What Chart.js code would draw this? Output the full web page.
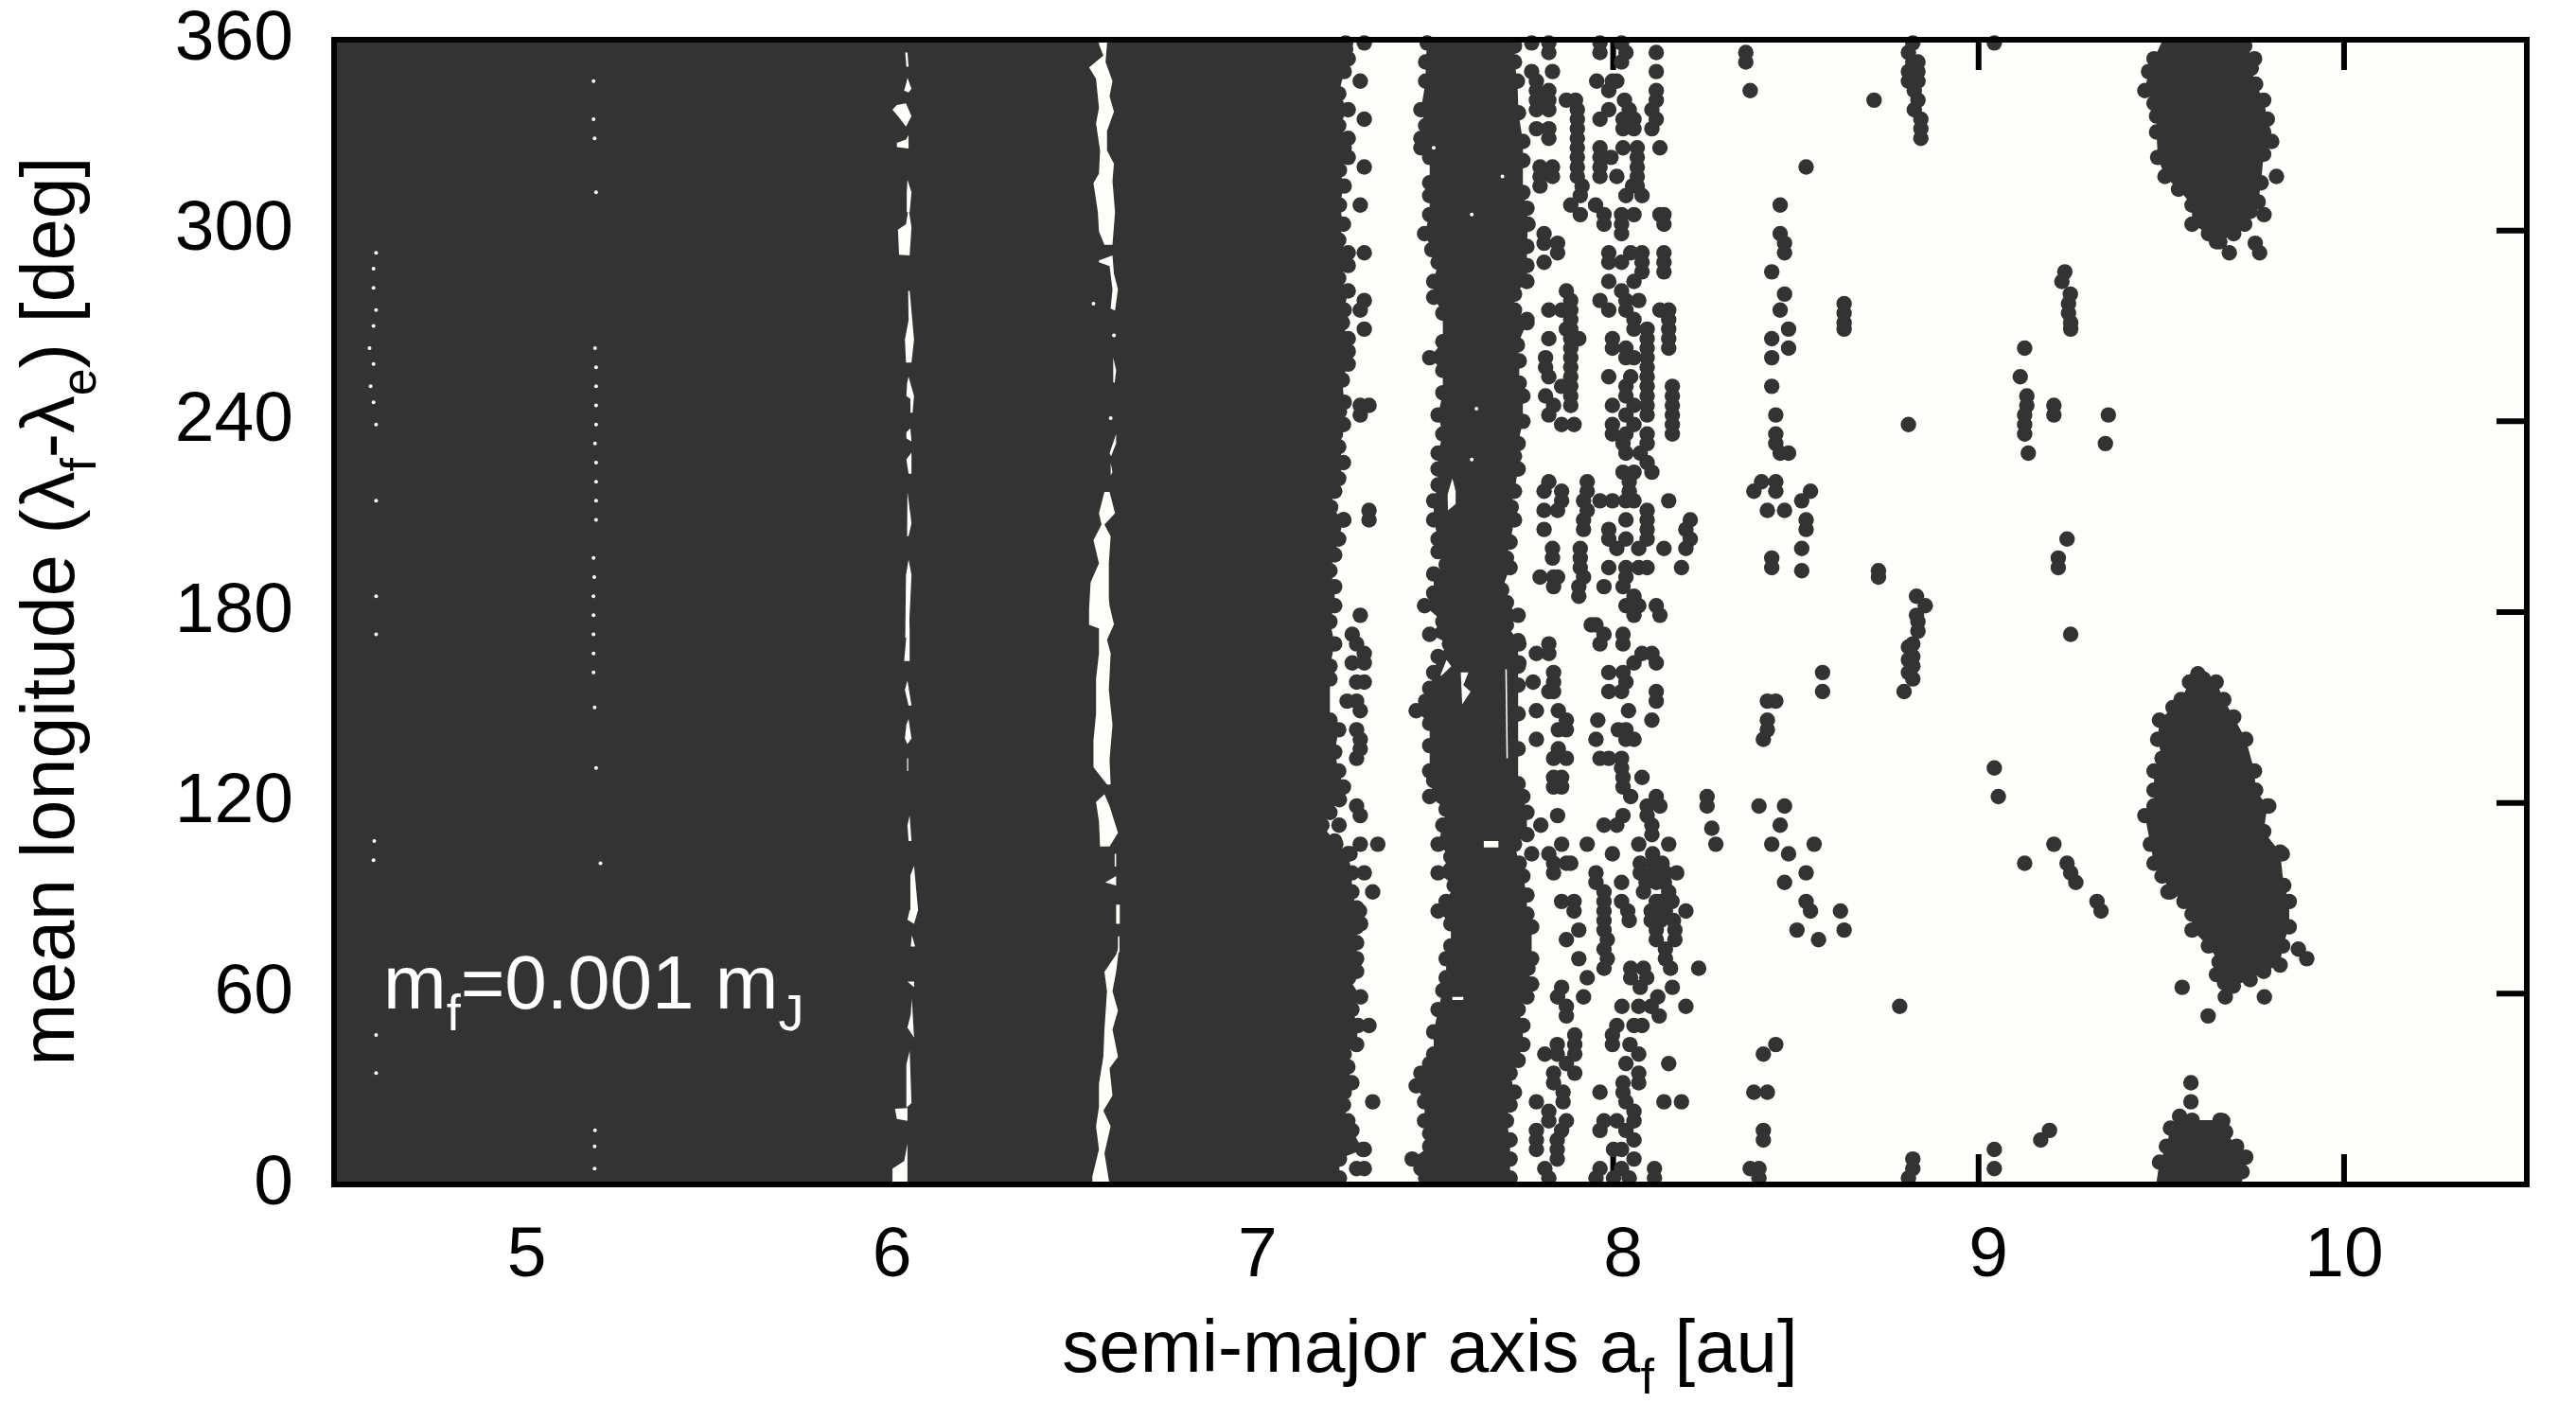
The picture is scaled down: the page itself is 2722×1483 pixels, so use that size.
<!DOCTYPE html>
<html>
<head>
<meta charset="utf-8">
<title>semi-major axis vs mean longitude</title>
<script src="https://cdn.jsdelivr.net/npm/chart.js@4/dist/chart.umd.js"></script>
<style>
  html, body { margin: 0; padding: 0; background: #ffffff; }
  canvas { display: block; }
</style>
</head>
<body>
<canvas id="myChart" width="2722" height="1483"></canvas>
<script>
var xTicks = [5, 6, 7, 8, 9, 10];
var yTicks = [0, 60, 120, 180, 240, 300, 360];

// solid part of the plot, too dense to tell single dots apart: [a, longitude]
// every vertex inside the frame is the centre of a dot on the rim
var denseMain = [[4.5,360],[6.66,360],[6.67,361.5],[7.25,361.5],[7.268,359],[7.268,357],[7.275,354],[7.264,350],[7.249,343],[7.275,338],[7.249,333],[7.275,329],[7.264,326],[7.275,323],[7.251,319],[7.264,314],[7.251,308],[7.262,302],[7.249,297],[7.275,293],[7.275,289],[7.249,285],[7.275,281],[7.264,275],[7.259,271],[7.275,266],[7.275,262],[7.275,258],[7.259,253],[7.264,246],[7.251,243],[7.262,239],[7.240,236],[7.249,232],[7.262,227],[7.249,222],[7.238,218],[7.227,213],[7.262,209],[7.249,203],[7.238,198],[7.225,193],[7.238,188],[7.238,182],[7.225,177],[7.238,170],[7.225,163],[7.225,159],[7.225,146],[7.249,143],[7.238,136],[7.249,130],[7.262,125],[7.251,121],[7.225,117],[7.203,113],[7.238,108],[7.274,104],[7.285,98],[7.285,92],[7.298,87],[7.309,82],[7.298,81],[7.298,76],[7.298,71],[7.298,67],[7.276,65],[7.309,59],[7.285,55],[7.302,50],[7.298,44],[7.264,41],[7.274,37],[7.285,32],[7.264,29],[7.262,25],[7.274,20],[7.285,17],[7.315,11],[7.251,8],[7.251,2],[7.272,0],[6.556,0],[6.556,-2.2],[5.447,-2.2],[5.44,0],[4.5,0]];
var denseBand = [[7.491,361.5],[7.491,359],[7.487,353],[7.487,347],[7.474,338],[7.487,333],[7.474,329],[7.474,326],[7.498,323],[7.498,315],[7.498,311],[7.498,305],[7.484,299],[7.504,294],[7.521,290],[7.509,284],[7.509,279],[7.534,274],[7.534,265],[7.498,260],[7.534,256],[7.534,249],[7.521,242],[7.534,236],[7.521,230],[7.521,225],[7.521,220],[7.509,215],[7.509,209],[7.521,203],[7.521,199],[7.543,195],[7.509,192],[7.509,186],[7.484,182],[7.534,177],[7.498,173],[7.552,170],[7.521,166],[7.509,161],[7.498,156],[7.487,152],[7.461,149],[7.498,145],[7.498,138],[7.498,130],[7.509,127],[7.498,122],[7.543,118],[7.534,113],[7.521,107],[7.556,103],[7.521,98],[7.565,94],[7.543,89],[7.521,86],[7.556,82],[7.556,75],[7.543,71],[7.543,65],[7.534,61],[7.521,55],[7.509,48],[7.509,41],[7.498,38],[7.474,35],[7.461,31],[7.484,26],[7.484,20],[7.498,16],[7.498,12],[7.450,8],[7.474,5],[7.487,2],[7.487,0],[7.718,0],[7.718,2],[7.718,8],[7.718,14],[7.708,20],[7.718,25],[7.730,29],[7.718,35],[7.740,39],[7.753,44],[7.753,50],[7.740,55],[7.764,59],[7.777,63],[7.767,68],[7.777,71],[7.777,81],[7.764,85],[7.764,91],[7.753,97],[7.743,101],[7.730,107],[7.764,110],[7.764,117],[7.753,122],[7.740,126],[7.740,137],[7.740,148],[7.740,157],[7.740,163],[7.740,171],[7.708,176],[7.740,179],[7.708,183],[7.695,187],[7.718,194],[7.708,197],[7.718,202],[7.730,209],[7.721,213],[7.730,218],[7.740,225],[7.730,229],[7.740,233],[7.753,240],[7.753,248],[7.743,252],[7.743,259],[7.738,264],[7.764,271],[7.764,272],[7.730,275],[7.730,280],[7.764,284],[7.764,289],[7.764,295],[7.767,302],[7.764,307],[7.753,312],[7.753,322],[7.753,328],[7.741,337],[7.738,347],[7.730,353],[7.730,358],[7.707,361.5]];
var blobUpper = [[9.510,361.5],[9.480,354],[9.465,350],[9.455,344],[9.480,340],[9.487,336],[9.487,331],[9.490,323],[9.510,317],[9.547,313],[9.584,308],[9.584,302],[9.629,299],[9.651,296.5],[9.660,296.5],[9.698,299],[9.728,302],[9.743,306],[9.765,309],[9.773,315],[9.780,324],[9.802,328],[9.780,331],[9.790,335],[9.780,341],[9.758,346],[9.746,351],[9.755,354],[9.728,358],[9.713,361.5]];
var blobMiddle = [[9.600,160.6],[9.577,158],[9.554,152.5],[9.532,150],[9.495,146],[9.490,140],[9.502,134],[9.480,130],[9.480,124],[9.480,119],[9.455,116],[9.470,107],[9.480,101],[9.502,97],[9.525,92],[9.562,89],[9.584,85],[9.584,80],[9.629,75],[9.658,70],[9.651,66],[9.673,63.4],[9.697,62.4],[9.743,64.4],[9.780,67],[9.825,69],[9.832,75],[9.850,81],[9.850,89],[9.835,94],[9.825,104.5],[9.780,111],[9.790,119],[9.758,124],[9.755,130],[9.731,140],[9.698,147],[9.671,152.5],[9.650,158],[9.615,159]];
var blobLower = [[9.487,0],[9.487,1],[9.495,7],[9.514,12],[9.525,17.7],[9.550,21.4],[9.584,20.2],[9.661,20.2],[9.668,20],[9.676,16.5],[9.706,12],[9.731,8.6],[9.721,4],[9.721,0]];

// empty slivers left inside the solid part
var gapsNearSix = [
  [[6.063,356],[6.069,356],[6.072,351.5],[6.066,351.5]],
  [[6.069,348],[6.080,344.6],[6.072,343.4],[6.060,344],[6.066,346.5]],
  [[6.065,340],[6.080,336],[6.065,332.7],[6.043,336],[6.028,338],[6.040,339.5]],
  [[6.072,330],[6.072,325.8],[6.040,326.2],[6.040,327.6],[6.065,328.6]],
  [[6.069,316],[6.080,312],[6.075,305.8],[6.067,305.8],[6.067,312]],
  [[6.072,307],[6.080,301],[6.075,292.2],[6.046,292.4],[6.043,300.3],[6.065,302]],
  [[6.075,281],[6.087,265.7],[6.080,258.5],[6.065,258.5],[6.062,265.7],[6.072,271.8],[6.071,281]],
  [[6.072,254],[6.087,248],[6.083,242.7],[6.077,242.7],[6.077,247],[6.066,248],[6.068,252]],
  [[6.077,237.8],[6.080,233.6],[6.066,234.7],[6.066,236.5]],
  [[6.080,230.2],[6.080,223.5],[6.072,223.5],[6.066,228]],
  [[6.069,217.8],[6.080,208],[6.072,203.9],[6.068,203.9]],
  [[6.072,196.5],[6.080,191.7],[6.072,172],[6.063,172],[6.065,191.7]],
  [[6.072,182],[6.075,175],[6.075,164.6],[6.060,164.6],[6.068,175]],
  [[6.069,158.5],[6.080,150.6],[6.072,150.6],[6.062,155.5]],
  [[6.072,146.4],[6.080,140.3],[6.069,138.5],[6.062,140.3],[6.066,144.6]],
  [[6.068,134],[6.071,134],[6.071,130],[6.068,130]],
  [[6.075,116],[6.080,108],[6.072,108],[6.069,113]],
  [[6.087,100.2],[6.098,86.3],[6.087,82],[6.069,83.2],[6.075,86.3],[6.077,97.2]],
  [[6.081,78.4],[6.090,74.8],[6.078,74.8]],
  [[6.069,63.8],[6.087,63.8],[6.087,62]],
  [[6.081,58.4],[6.087,46.2],[6.069,49.3],[6.078,53.5]],
  [[6.075,42],[6.080,25.6],[6.065,24],[6.066,37.7]],
  [[6.035,23.8],[6.069,24],[6.069,20],[6.040,20.6]],
  [[6.069,12.8],[6.069,0],[6.028,0],[6.028,5],[6.060,7.4]]
];
var gapsNearSixSix = [
  [[6.593,361],[6.593,358.6],[6.605,355],[6.566,351.3],[6.585,347.7],[6.593,338.6],[6.585,333.7],[6.596,325.2],[6.593,317.9],[6.578,314.9],[6.590,305.8],[6.593,299.7],[6.608,295.5],[6.630,295.5],[6.637,305.8],[6.630,315.5],[6.634,321],[6.615,325.2],[6.615,331.3],[6.634,337.4],[6.622,342.2],[6.630,347],[6.611,353],[6.615,358.6],[6.615,361]],
  [[6.593,290.6],[6.630,292.2],[6.634,286.4],[6.645,281.5],[6.637,274.8],[6.625,275.4],[6.630,281.5],[6.622,288.8],[6.593,290]],
  [[6.632,260],[6.640,256],[6.636,252],[6.632,252.5]],
  [[6.640,236],[6.622,230],[6.626,229],[6.640,233]],
  [[6.625,227],[6.630,224],[6.625,223]],
  [[6.608,217.8],[6.593,211.1],[6.600,207.5],[6.578,202.6],[6.593,195.3],[6.570,189.3],[6.566,180.8],[6.566,176],[6.593,174.9],[6.593,167],[6.585,159],[6.585,148],[6.578,139.7],[6.578,131.2],[6.615,125.8],[6.625,125.8],[6.622,133.6],[6.630,144.6],[6.620,155.5],[6.625,167],[6.615,171.3],[6.634,176.1],[6.622,182],[6.620,184.4],[6.620,195.3],[6.625,203.8],[6.608,207.5],[6.637,211.1],[6.622,217.8]],
  [[6.608,122.7],[6.622,119],[6.645,110.6],[6.622,106.3],[6.596,106.3],[6.593,114.2],[6.585,120.3]],
  [[6.636,104],[6.640,104],[6.640,100],[6.636,100]],
  [[6.640,97],[6.640,94],[6.610,95]],
  [[6.640,88],[6.650,88],[6.650,82],[6.640,82]],
  [[6.645,78],[6.649,78],[6.649,73],[6.645,73]],
  [[6.640,72.3],[6.608,66.9],[6.615,60.8],[6.608,48.7],[6.605,40.2],[6.593,31.7],[6.593,24.4],[6.585,18.3],[6.593,11],[6.575,2.5],[6.575,0],[6.622,0],[6.608,9.8],[6.625,18.3],[6.605,23.2],[6.630,28],[6.622,36.5],[6.645,40.2],[6.630,48.7],[6.645,54.7],[6.630,60.8],[6.640,66.9],[6.649,75.4]]
];
var gapsInBand = [
  [[7.583,161],[7.604,161],[7.590,157],[7.610,155],[7.587,151]],
  [[7.544,165],[7.557,163],[7.530,160],[7.527,160]],
  [[7.560,222],[7.569,218],[7.569,214],[7.548,212],[7.547,217]],
  [[7.705,162],[7.709,162],[7.712,134],[7.708,134]],
  [[7.646,108],[7.686,108],[7.686,106],[7.646,106]],
  [[7.560,59],[7.590,59],[7.590,58],[7.560,58]]
];

// single holes in the solid part
var specks = [[4.615,293],[4.608,288],[4.608,282],[4.615,275],[4.608,270],[4.597,263],[4.608,258],[4.600,251],[4.608,246],[4.615,239],[4.615,215],[4.615,185],[4.615,173],[4.610,108],[4.608,102],[4.615,47],[4.615,35],[5.210,347],[5.210,335],[5.213,329],[5.217,312],[5.214,263],[5.217,257],[5.217,251],[5.217,245],[5.217,239],[5.214,233],[5.217,227],[5.217,221],[5.217,215],[5.217,209],[5.210,197],[5.212,191],[5.210,185],[5.210,179],[5.210,173],[5.210,167],[5.210,161],[5.213,150],[5.217,131],[5.229,101],[5.214,17],[5.213,12],[5.213,5],[6.578,277],[6.634,267],[6.625,241],[7.509,326],[7.697,317],[7.613,305],[7.613,228],[7.626,244]];

// dots that stand free, read column by column
var dotsEdge = [[7.319,359],[7.308,347],[7.319,335],[7.319,320],[7.308,308],[7.319,293],[7.319,278],[7.308,275],[7.319,269],[7.308,245],[7.332,245],[7.308,242],[7.332,212],[7.332,209],[7.263,209],[7.308,179],[7.286,173],[7.298,170],[7.319,167],[7.286,164],[7.319,164],[7.319,158],[7.298,158],[7.298,152],[7.308,149],[7.272,152],[7.298,143],[7.308,140],[7.308,137],[7.298,134],[7.259,125],[7.298,119],[7.308,116],[7.250,113],[7.308,107],[7.356,107],[7.241,107],[7.280,104],[7.319,98],[7.342,92],[7.306,86],[7.342,26],[7.332,50],[7.319,11],[7.298,5],[7.319,5]];
var dotsUpper = [[7.777,359],[7.824,359],[7.824,356],[7.777,350],[7.834,350],[7.790,347],[7.790,344],[7.824,344],[7.790,341],[7.824,341],[7.790,338],[7.824,338],[7.790,332],[7.824,332],[7.824,329],[7.872,341],[7.897,341],[7.902,338],[7.902,335],[7.902,332],[7.902,329],[7.902,326],[7.902,323],[7.902,320],[7.902,317],[7.915,314],[7.910,311],[7.884,308],[7.910,305],[7.952,308],[7.975,305],[7.975,302],[7.811,299],[7.811,296],[7.848,296],[7.848,293],[7.811,290],[7.800,320],[7.834,320],[7.800,317],[7.834,317],[7.800,314],[7.955,347],[7.964,359],[7.964,356],[7.998,347],[8.010,347],[7.988,344],[8.031,341],[8.044,338],[7.988,338],[7.964,335],[8.027,335],[8.057,335],[8.027,332],[8.057,332],[7.964,326],[7.964,323],[7.964,320],[7.964,317],[8.010,317],[8.027,326],[8.066,326],[7.994,323],[8.066,323],[8.066,320],[8.066,317],[8.066,314],[8.035,311],[8.079,311],[8.053,314],[8.023,359],[8.035,356],[8.023,353],[8.118,356],[8.118,350],[8.118,344],[8.118,341],[8.106,338],[8.118,335],[8.106,332],[8.128,326],[8.023,305],[8.057,305],[8.023,299],[8.023,302],[8.128,305],[8.139,305],[8.139,302],[7.988,293],[7.988,290],[8.023,290],[8.048,293],[8.079,293],[8.079,290],[8.079,287],[8.057,284],[8.139,293],[8.139,290],[8.139,287],[7.988,284],[8.023,281],[8.035,278],[8.070,278],[8.035,275],[8.057,272],[7.964,278],[7.988,275],[7.872,281],[7.884,278],[7.884,275],[7.824,275],[7.859,275],[7.884,272],[8.128,275],[8.152,275],[8.152,272]];
var dotsMiddle = [[7.824,266],[7.906,266],[7.872,269],[7.884,269],[7.884,266],[7.884,263],[7.884,260],[7.884,257],[7.884,254],[7.884,251],[7.884,248],[7.884,245],[7.815,260],[7.815,257],[7.824,254],[7.859,251],[7.815,248],[7.837,245],[7.824,242],[7.859,239],[7.893,239],[7.998,266],[7.998,263],[8.035,263],[8.035,260],[8.057,269],[8.093,269],[8.093,266],[8.093,263],[8.057,260],[8.093,260],[8.093,257],[7.988,254],[8.048,254],[8.093,254],[8.035,251],[8.093,251],[8.035,248],[8.093,248],[8.057,245],[8.093,245],[7.998,245],[8.035,242],[8.093,242],[7.998,239],[7.998,236],[8.057,239],[8.035,236],[8.093,236],[8.027,233],[8.093,233],[8.035,230],[8.074,230],[8.093,227],[8.106,224],[8.027,224],[8.057,224],[8.152,269],[8.152,266],[8.152,263],[8.162,251],[8.162,248],[8.162,245],[8.162,242],[8.162,239],[8.162,236],[7.824,221],[7.811,218],[7.859,218],[7.859,215],[7.811,212],[7.848,212],[7.811,206],[7.834,200],[7.834,197],[7.929,221],[7.929,218],[7.919,215],[7.964,215],[7.998,215],[8.035,215],[8.057,215],[8.044,218],[8.044,221],[7.929,212],[8.152,215],[7.919,209],[7.919,206],[7.910,200],[7.910,197],[7.910,194],[7.919,191],[7.906,188],[7.906,185],[8.093,212],[8.035,209],[8.093,209],[8.093,206],[7.988,206],[7.988,203],[8.035,203],[8.093,203],[8.010,200],[8.070,200],[8.139,200],[8.211,209],[8.199,206],[8.211,203],[8.199,200],[7.988,194],[8.035,194],[8.070,194],[8.093,194],[8.187,194],[8.035,191],[8.027,188],[7.975,188],[8.057,185],[8.035,182],[8.070,182],[8.057,179],[8.118,182],[8.128,179],[7.800,191],[7.837,191],[7.848,191],[7.837,188],[7.953,176]];
var dotsLower = [[7.742,170],[7.742,164],[7.781,158],[7.790,149],[7.790,140],[7.824,170],[7.790,167],[7.824,167],[7.837,161],[7.837,158],[7.837,155],[7.824,155],[7.850,149],[7.872,146],[7.850,143],[7.872,143],[7.850,137],[7.872,134],[7.837,134],[7.837,128],[7.859,128],[7.837,125],[7.859,125],[7.848,116],[7.802,113],[7.777,104],[7.824,104],[7.859,107],[7.837,98],[7.837,101],[7.872,101],[7.884,101],[7.964,170],[7.940,176],[7.975,173],[8.027,173],[8.027,170],[8.057,164],[8.106,167],[8.118,164],[8.079,167],[7.988,161],[8.027,161],[8.035,158],[7.988,155],[8.023,155],[8.118,155],[8.118,152],[8.042,149],[7.958,146],[8.106,146],[8.014,143],[8.035,143],[7.953,140],[8.057,140],[8.035,140],[7.964,134],[7.988,134],[8.023,134],[8.023,131],[8.027,128],[8.027,125],[8.079,128],[8.048,122],[8.118,122],[8.093,119],[8.128,119],[8.093,116],[8.106,113],[8.106,110],[8.070,107],[8.152,107],[8.027,116],[7.975,113],[8.010,113],[7.929,107],[7.998,104],[8.074,101],[8.108,104],[8.134,101],[8.108,101],[8.074,98],[8.108,98],[8.143,98],[8.174,98],[8.023,95],[8.090,95],[8.140,95],[8.083,92],[8.118,95],[8.152,92],[8.023,89],[8.118,89],[8.130,89],[8.161,89],[8.199,86],[8.040,86],[8.104,86],[8.143,86],[8.044,83],[8.104,83],[8.130,83],[8.165,83],[7.953,98],[7.953,95],[7.975,92],[7.975,89],[7.975,86],[7.975,83],[7.859,89],[7.893,89],[7.893,86],[7.906,80]];
var dotsBottom = [[7.872,77],[7.906,71],[7.929,65],[7.919,59],[7.859,62],[7.848,59],[7.872,56],[7.872,53],[7.975,80],[7.984,77],[7.975,74],[7.984,71],[7.975,68],[8.118,80],[8.169,80],[8.118,77],[8.169,77],[8.143,74],[8.143,71],[8.157,68],[8.234,68],[8.048,68],[8.083,68],[8.048,65],[8.092,65],[8.074,62],[8.162,62],[8.122,59],[8.024,56],[8.070,56],[8.104,56],[8.126,53],[8.199,56],[8.057,50],[8.079,50],[8.010,50],[7.998,47],[7.998,44],[8.046,44],[8.070,41],[8.035,38],[8.070,35],[8.027,32],[8.070,32],[8.027,29],[8.035,26],[8.057,23],[8.057,20],[8.035,17],[8.057,14],[8.010,20],[7.975,20],[7.964,17],[8.001,11],[8.023,11],[8.057,8],[8.023,5],[7.964,5],[8.044,2],[8.001,2],[7.953,2],[8.113,5],[8.113,2],[8.139,26],[8.187,26],[8.152,38],[7.964,29],[7.895,47],[7.895,44],[7.895,41],[7.847,44],[7.813,41],[7.847,41],[7.872,38],[7.895,35],[7.837,35],[7.837,32],[7.863,29],[7.863,26],[7.824,23],[7.872,20],[7.824,20],[7.859,17],[7.790,17],[7.790,14],[7.790,11],[7.847,14],[7.847,11],[7.847,8],[7.813,5],[7.824,2],[7.790,26]];
var dotsFar = [[8.257,122],[8.257,119],[8.270,112],[8.281,107],[8.363,356],[8.363,353],[8.375,344],[8.714,341],[9.043,359],[8.528,320],[8.457,308],[8.457,299],[8.469,296],[8.469,293],[8.434,287],[8.469,280],[8.457,275],[8.480,269],[8.434,266],[8.480,263],[8.434,260],[8.434,251],[8.445,242],[8.445,236],[8.445,233],[8.457,230],[8.480,230],[8.406,221],[8.445,221],[8.385,218],[8.445,218],[8.540,218],[8.516,215],[8.422,212],[8.469,212],[8.528,209],[8.528,206],[8.516,200],[8.434,197],[8.434,194],[8.516,193],[8.726,193],[8.726,191],[8.808,239],[8.632,277],[8.632,274],[8.632,271],[8.632,269],[8.820,359],[8.808,356],[8.820,353],[8.808,350],[8.834,353],[8.834,350],[8.808,347],[8.834,347],[8.824,344],[8.834,341],[8.824,338],[8.842,335],[8.842,332],[8.842,329],[8.830,185],[8.854,182],[8.830,179],[8.834,177],[8.834,174],[8.820,170],[8.820,166],[8.820,163],[8.820,159],[8.796,155],[8.808,169],[8.808,165],[8.808,161],[9.126,263],[9.114,254],[9.132,248],[9.132,245],[9.126,242],[9.126,239],[9.126,236],[9.136,230],[9.206,245],[9.206,242],[9.355,242],[9.347,233],[9.236,287],[9.228,284],[9.251,280],[9.246,277],[9.246,274],[9.252,271],[9.252,269],[9.242,203],[9.218,197],[9.218,194],[9.252,173],[8.573,161],[8.573,155],[8.422,152],[8.445,152],[8.422,146],[8.422,143],[8.411,140],[9.043,131],[9.054,122],[8.399,119],[8.469,119],[8.457,113],[8.434,107],[8.480,104],[8.550,107],[8.528,98],[8.469,95],[8.528,89],[8.540,86],[8.622,86],[8.632,80],[8.503,80],[8.562,77],[9.206,107],[9.126,101],[9.242,101],[9.252,98],[9.266,95],[9.324,89],[9.335,86],[8.784,56],[8.445,44],[8.411,41],[8.385,29],[8.422,29],[8.411,17],[8.411,14],[8.375,5],[8.399,5],[8.399,2],[8.820,8],[8.820,5],[8.808,2],[9.043,11],[9.043,5],[9.194,17],[9.170,14],[9.686,293],[9.757,296],[9.769,293],[9.781,305],[9.815,317],[9.875,74],[9.898,71],[9.557,62],[9.782,59],[9.675,59],[9.628,53],[9.581,32],[9.581,26],[9.794,119],[9.831,104],[9.518,92]];

var DOT = "#333333";
var PAPER = "#fefefa";
var FONT = '"Liberation Sans", Arial, sans-serif';
var DOT_RADIUS = 8.2;

function toPoints(list) {
    return list.map(function (p) { return {x: p[0], y: p[1]}; });
}

function rimRadius(ctx) {
    var y = ctx.parsed.y;
    return y > 1.5 && y < 359.5 ? DOT_RADIUS : 0;
}

function shape(list, color, radius) {
    return {
        data: toPoints(list),
        showLine: true,
        fill: "shape",
        backgroundColor: color,
        pointBackgroundColor: color,
        borderWidth: 0,
        pointBorderWidth: 0,
        pointRadius: radius,
        pointHoverRadius: radius,
        clip: false
    };
}

function dots(list, color, radius) {
    return {
        data: toPoints(list),
        backgroundColor: color,
        borderWidth: 0,
        pointRadius: radius,
        pointHoverRadius: radius,
        clip: false
    };
}

// listed bottom to top, order is set below
var layers = [denseMain, denseBand, blobUpper, blobMiddle, blobLower].map(function (s) {
    return shape(s, DOT, rimRadius);
});
gapsNearSix.concat(gapsNearSixSix, gapsInBand).forEach(function (g) {
    layers.push(shape(g, PAPER, 0));
});
layers.push(dots(specks, PAPER, 2));
[dotsEdge, dotsUpper, dotsMiddle, dotsLower, dotsBottom, dotsFar].forEach(function (d) {
    layers.push(dots(d, DOT, DOT_RADIUS));
});
layers.forEach(function (l, i) { l.order = -i; });

// runs of [text, isSubscript]
function textWidth(ctx, runs, size, subSize) {
    var w = 0;
    runs.forEach(function (r) {
        ctx.font = (r[1] ? subSize : size) + "px " + FONT;
        w += ctx.measureText(r[0]).width;
    });
    return w;
}

function drawRuns(ctx, runs, x, y, size, subSize) {
    ctx.textAlign = "left";
    ctx.textBaseline = "alphabetic";
    runs.forEach(function (r) {
        ctx.font = (r[1] ? subSize : size) + "px " + FONT;
        ctx.fillText(r[0], x, r[1] ? y + 23 : y);
        x += ctx.measureText(r[0]).width;
    });
}

var framePlugin = {
    id: "frame",
    beforeDraw: function (chart) {
        var a = chart.chartArea;
        chart.ctx.fillStyle = PAPER;
        chart.ctx.fillRect(a.left, a.top, a.right - a.left, a.bottom - a.top);
    },
    beforeDatasetsDraw: function (chart) {
        var ctx = chart.ctx, a = chart.chartArea, len = 32;
        ctx.save();
        ctx.strokeStyle = "#000000";
        ctx.lineWidth = 6;
        ctx.beginPath();
        xTicks.forEach(function (v) {
            var px = chart.scales.x.getPixelForValue(v);
            ctx.moveTo(px, a.top); ctx.lineTo(px, a.top + len);
            ctx.moveTo(px, a.bottom); ctx.lineTo(px, a.bottom - len);
        });
        yTicks.forEach(function (v) {
            var py = chart.scales.y.getPixelForValue(v);
            ctx.moveTo(a.left, py); ctx.lineTo(a.left + len, py);
            ctx.moveTo(a.right, py); ctx.lineTo(a.right - len, py);
        });
        ctx.stroke();
        ctx.restore();
    },
    afterDatasetsDraw: function (chart) {
        var ctx = chart.ctx, a = chart.chartArea;
        ctx.save();
        ctx.strokeStyle = "#000000";
        ctx.lineWidth = 6;
        ctx.strokeRect(a.left, a.top, a.right - a.left, a.bottom - a.top);
        ctx.fillStyle = "#ffffff";
        drawRuns(ctx, [["m", 0], ["f", 1], ["=0.001 m", 0], ["J", 1]], a.left + 52, 1066, 80, 54);
        ctx.fillStyle = "#000000";
        var xRuns = [["semi-major axis a", 0], ["f", 1], [" [au]", 0]];
        drawRuns(ctx, xRuns, 1511 - textWidth(ctx, xRuns, 78, 52) / 2, 1450, 78, 52);
        var yRuns = [["mean longitude (λ", 0], ["f", 1], ["-λ", 0], ["e", 1], [") [deg]", 0]];
        ctx.translate(78, 646);
        ctx.rotate(-Math.PI / 2);
        drawRuns(ctx, yRuns, -textWidth(ctx, yRuns, 79, 52) / 2, 0, 79, 52);
        ctx.restore();
    }
};

function noScalePadding(scale) {
    scale.paddingTop = 0;
    scale.paddingBottom = 0;
    scale.paddingLeft = 0;
    scale.paddingRight = 0;
}

var myChart = new Chart(document.getElementById("myChart").getContext("2d"), {
    type: "scatter",
    data: {datasets: layers},
    plugins: [framePlugin],
    options: {
        responsive: false,
        animation: false,
        events: [],
        layout: {padding: {top: 42, right: 52, bottom: 0, left: 0}},
        plugins: {legend: {display: false}, tooltip: {enabled: false}},
        scales: {
            x: {
                type: "linear",
                min: 4.5,
                max: 10.5,
                afterFit: function (scale) { scale.height = 231; noScalePadding(scale); },
                afterBuildTicks: function (scale) {
                    scale.ticks = xTicks.map(function (v) { return {value: v}; });
                },
                grid: {display: false},
                border: {display: false},
                ticks: {
                    color: "#000000",
                    padding: 23,
                    maxRotation: 0,
                    autoSkip: false,
                    font: {family: FONT, size: 75},
                    // single digits sit a little right of their tick in the reference
                    callback: function (v) { return v < 10 ? " " + v : String(v); }
                }
            },
            y: {
                type: "linear",
                min: 0,
                max: 360,
                afterFit: function (scale) { scale.width = 353; noScalePadding(scale); },
                afterBuildTicks: function (scale) {
                    scale.ticks = yTicks.map(function (v) { return {value: v}; });
                },
                grid: {display: false},
                border: {display: false},
                ticks: {
                    color: "#000000",
                    padding: 35,
                    autoSkip: false,
                    font: {family: FONT, size: 75}
                }
            }
        }
    }
});
</script>
</body>
</html>
